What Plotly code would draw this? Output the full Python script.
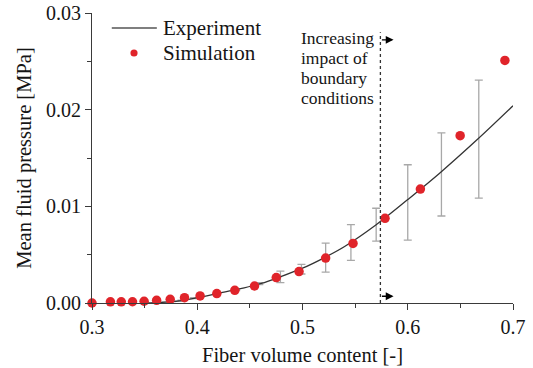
import plotly.graph_objects as go

# Smoothed experimental pressure curve
exp_curve_x = [0.35, 0.36, 0.38, 0.40, 0.42, 0.44, 0.46, 0.48, 0.50, 0.52,
               0.54, 0.57, 0.60, 0.63, 0.665, 0.70]
exp_curve_y = [0.0, 0.00003, 0.00018, 0.00055, 0.00100, 0.00145, 0.00200,
               0.00275, 0.00360, 0.00465, 0.00585, 0.00810, 0.01070,
               0.01340, 0.01680, 0.02040]

# Experimental measurement points with scatter
exp_pts_x = [0.385, 0.397, 0.437, 0.459, 0.479, 0.499, 0.522, 0.546, 0.570,
             0.600, 0.632, 0.6675]
exp_pts_y = [0.00025, 0.00050, 0.00135, 0.00200, 0.00270, 0.00350, 0.00470,
             0.00625, 0.00810, 0.01040, 0.01330, 0.01695]
exp_pts_err = [0.00005, 0.00005, 0.00008, 0.00010, 0.00060, 0.00050,
               0.00150, 0.00185, 0.00170, 0.00390, 0.00430, 0.00610]

# Simulation results
sim_x = [0.300, 0.3175, 0.3278, 0.3385, 0.3495, 0.3614, 0.3743, 0.3879,
         0.4027, 0.4186, 0.4357, 0.4544, 0.4751, 0.4967, 0.5220, 0.5480,
         0.5784, 0.6120, 0.6498, 0.6923]
sim_y = [0.0, 0.00012, 0.00012, 0.00013, 0.00018, 0.00028, 0.00038, 0.00055,
         0.00073, 0.00097, 0.00131, 0.00176, 0.00263, 0.00325, 0.00465,
         0.00616, 0.00876, 0.01179, 0.01731, 0.02509]

boundary_x = 0.574
note_lines = ["Increasing", "impact of", "boundary", "conditions"]
legend_labels = ["Experiment", "Simulation"]
x_ticks = [0.3, 0.4, 0.5, 0.6, 0.7]
y_ticks = [0.00, 0.01, 0.02, 0.03]

FONT = "Liberation Serif"
AXIS_COLOR = "#3a3a3a"
TEXT_COLOR = "#151515"
LINE_COLOR = "#333333"
DOT_COLOR = "#e0242a"

fig = go.Figure()

fig.add_trace(go.Scatter(
    x=exp_pts_x, y=exp_pts_y, mode="markers",
    marker=dict(size=1, color="rgba(0,0,0,0)"),
    error_y=dict(type="data", array=exp_pts_err, visible=True,
                 color="#a8a8a8", thickness=1.3, width=4),
    showlegend=False, hoverinfo="skip",
))

fig.add_trace(go.Scatter(
    x=exp_curve_x, y=exp_curve_y, mode="lines", name=legend_labels[0],
    line=dict(color=LINE_COLOR, width=1.3, shape="spline", smoothing=1.0),
    showlegend=False,
))

fig.add_trace(go.Scatter(
    x=sim_x, y=sim_y, mode="markers", name=legend_labels[1],
    marker=dict(color=DOT_COLOR, size=9.5, line=dict(width=0)),
    cliponaxis=False, showlegend=False,
))

# Key in the upper-left corner (paper coordinates of the plot area)
fig.add_shape(type="line", xref="paper", yref="paper",
              x0=0.047, x1=0.154, y0=0.948, y1=0.948,
              line=dict(color="#555555", width=1.5))
fig.add_shape(type="circle", xref="paper", yref="paper",
              x0=0.0998 - 0.0085, x1=0.0998 + 0.0085,
              y0=0.862 - 0.0124, y1=0.862 + 0.0124,
              fillcolor=DOT_COLOR, line=dict(width=0))
for label, ky in zip(legend_labels, [0.948, 0.862]):
    fig.add_annotation(x=0.165, y=ky, xref="paper", yref="paper",
                       xanchor="left", yanchor="middle", showarrow=False,
                       text=label,
                       font=dict(family=FONT, size=21, color=TEXT_COLOR))

# Boundary marker: dotted vertical line with arrows
fig.add_shape(type="line", xref="x", yref="y",
              x0=boundary_x, x1=boundary_x, y0=0, y1=0.0280,
              line=dict(color=LINE_COLOR, width=1.3, dash="dot"))
for ya in [0.02723, 0.0007]:
    fig.add_annotation(x=boundary_x + 0.0125, y=ya, ax=boundary_x, ay=ya,
                       xref="x", yref="y", axref="x", ayref="y",
                       showarrow=True, arrowhead=2, arrowsize=1.2,
                       arrowwidth=1.3, arrowcolor="#000000", text="")

for line, ly in zip(note_lines, [0.02744, 0.02536, 0.02329, 0.02122]):
    fig.add_annotation(
        x=0.4965, y=ly, xref="x", yref="y",
        xanchor="left", yanchor="middle", showarrow=False, text=line,
        font=dict(family=FONT, size=17.5, color=TEXT_COLOR),
    )

fig.update_layout(
    width=533, height=368,
    margin=dict(l=92, r=20, t=13, b=65),
    paper_bgcolor="white", plot_bgcolor="white",
    font=dict(family=FONT, color=TEXT_COLOR),
    showlegend=False,
)

fig.update_xaxes(
    range=[0.3, 0.7], tickvals=x_ticks, ticktext=[f"{v:.1f}" for v in x_ticks],
    showline=True, linecolor=AXIS_COLOR, linewidth=1.2, mirror=False,
    ticks="outside", ticklen=6, tickcolor=AXIS_COLOR, tickwidth=1.2,
    minor=dict(tickvals=[0.35, 0.45, 0.55, 0.65], ticks="outside",
               ticklen=4, tickcolor=AXIS_COLOR, tickwidth=1.2),
    showgrid=False, zeroline=False, automargin=False,
    tickfont=dict(family=FONT, size=20, color=TEXT_COLOR),
    title=dict(text="Fiber volume content [-]", standoff=10,
               font=dict(family=FONT, size=20.5, color=TEXT_COLOR)),
)
fig.update_yaxes(
    range=[0, 0.03], tickvals=y_ticks, ticktext=[f"{v:.2f}" for v in y_ticks],
    showline=True, linecolor=AXIS_COLOR, linewidth=1.2, mirror=False,
    ticks="outside", ticklen=6, tickcolor=AXIS_COLOR, tickwidth=1.2,
    minor=dict(tickvals=[0.005, 0.015, 0.025], ticks="outside",
               ticklen=4, tickcolor=AXIS_COLOR, tickwidth=1.2),
    showgrid=False, zeroline=False, automargin=False,
    tickfont=dict(family=FONT, size=20, color=TEXT_COLOR),
    title=dict(text="Mean fluid pressure [MPa]", standoff=8,
               font=dict(family=FONT, size=20.5, color=TEXT_COLOR)),
)

fig.write_html("out.html")
